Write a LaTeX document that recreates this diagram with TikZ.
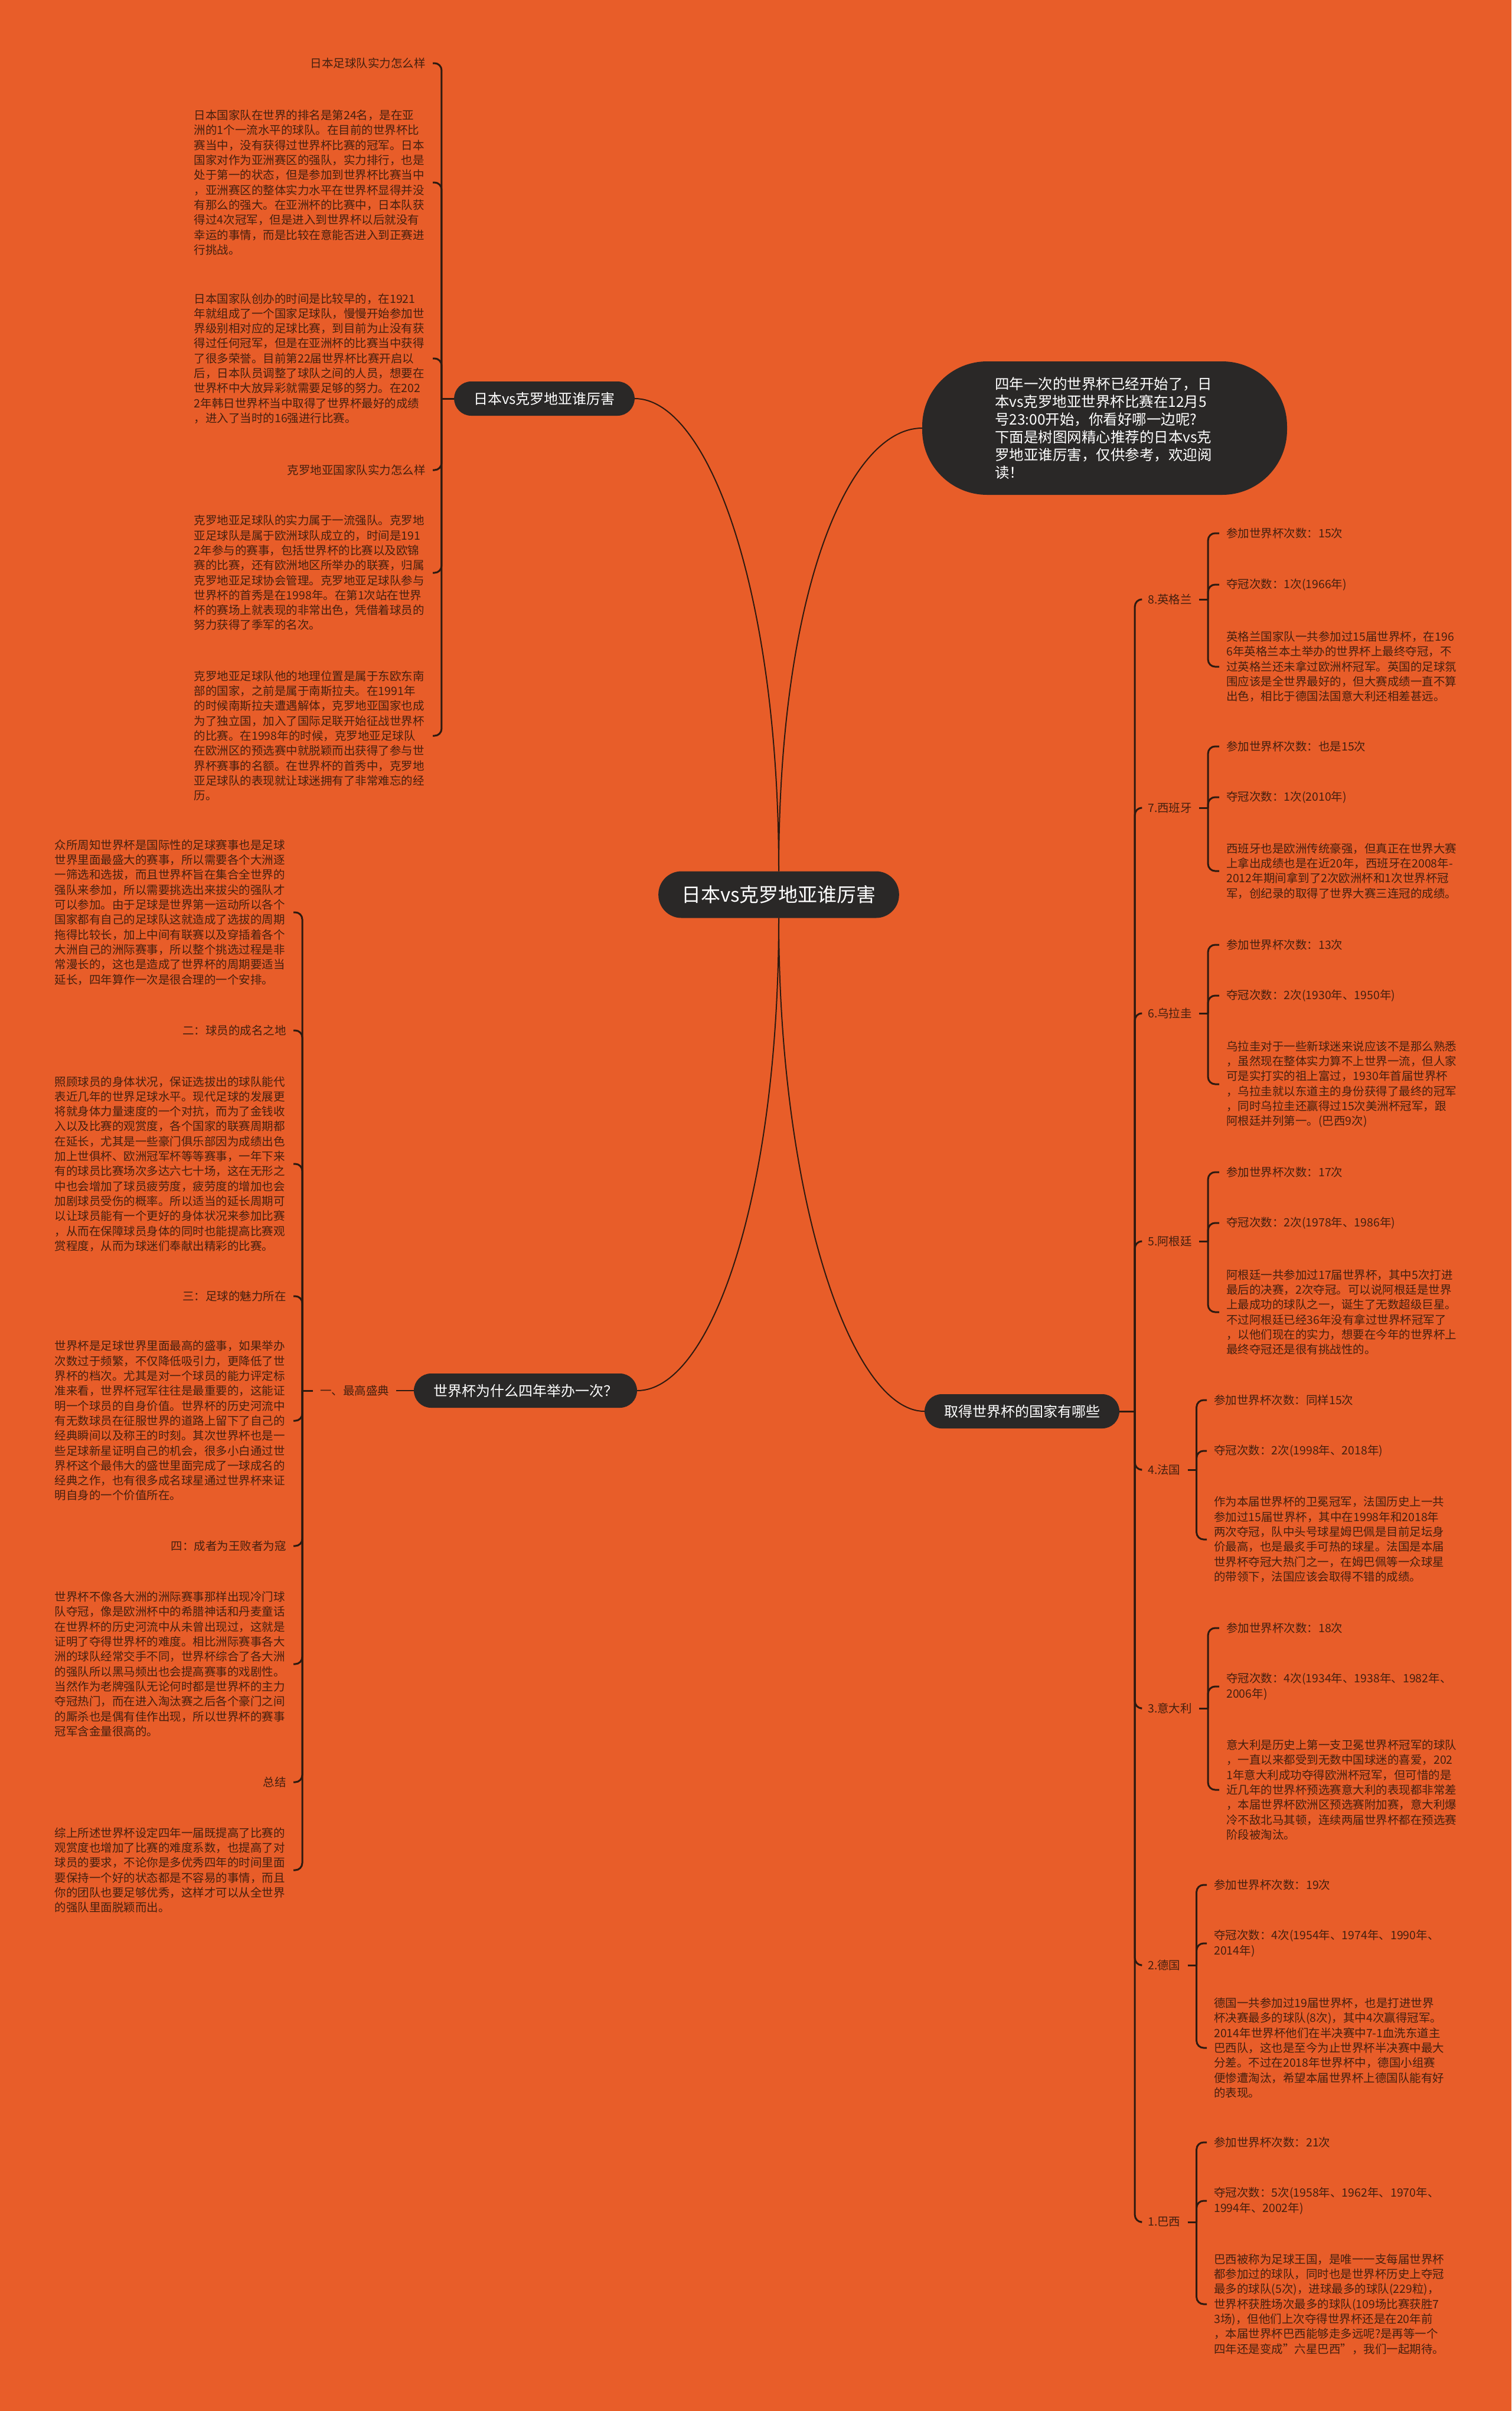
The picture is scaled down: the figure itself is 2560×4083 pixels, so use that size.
\documentclass[tikz,border=0pt]{standalone}
\usepackage{fontspec}
\setmainfont{Noto Sans CJK SC}
\usetikzlibrary{positioning}
\definecolor{MapBg}{HTML}{E85D29}
\definecolor{MapDark}{HTML}{2A2827}
\definecolor{MapInk}{HTML}{45200F}
\definecolor{MapLine}{HTML}{2E1A10}

\begin{document}
\begin{tikzpicture}[x=1pt,y=-1pt]
    \tikzset{
      hub/.style={fill=MapDark,text=white,rounded corners=39pt,inner xsep=39pt,minimum height=79pt,font=\fontsize{33}{40}\selectfont},
      br/.style={fill=MapDark,text=white,rounded corners=29pt,inner xsep=33pt,minimum height=58pt,font=\fontsize{24}{30}\selectfont},
      leaf/.style={text=MapInk,align=left,inner xsep=12pt,inner ysep=0pt,font=\fontsize{19.5}{25.3}\selectfont},
      para/.style={leaf,text width=392pt},
      ln/.style={draw=MapLine,line width=3pt,rounded corners=12pt},
      cv/.style={draw=MapLine,line width=2pt}
    }
    \fill[MapBg] (0,0) rectangle (2560,4083);
    \useasboundingbox (0,0) rectangle (2560,4083);

    % centre and the four branches
    \node[hub] (hub) at (1319,1515) {日本vs克罗地亚谁厉害};
    \node[br] (jp) at (922,675) {日本vs克罗地亚谁厉害};
    \node[br] (why) at (890,2355) {世界杯为什么四年举办一次？};
    \node[br] (win) at (1731,2390) {取得世界杯的国家有哪些};
    \node[fill=MapDark,text=white,rounded corners=110pt,minimum width=618pt,minimum height=226pt,text width=372pt,align=left,font=\fontsize{24.5}{30}\selectfont] (intro) at (1871,725) {四年一次的世界杯已经开始了，日\\本vs克罗地亚世界杯比赛在12月5\\号23:00开始，你看好哪一边呢?\\下面是树图网精心推荐的日本vs克\\罗地亚谁厉害，仅供参考，欢迎阅\\读！};

    \draw[cv] (hub.north) .. controls +(0,-476) and +(124,0) .. (jp.east);
    \draw[cv] (hub.north) .. controls +(0,-476) and +(-124,0) .. (intro.west);
    \draw[cv] (hub.south) .. controls +(0,475) and +(124,0) .. (why.east);
    \draw[cv] (hub.south) .. controls +(0,475) and +(-124,0) .. (win.west);

    % Japan vs Croatia
    \node[leaf,anchor=east] (jp1) at (733,107) {日本足球队实力怎么样};
    \node[para,anchor=east] (jp2) at (733,309) {日本国家队在世界的排名是第24名，是在亚\\洲的1个一流水平的球队。在目前的世界杯比\\赛当中，没有获得过世界杯比赛的冠军。日本\\国家对作为亚洲赛区的强队，实力排行，也是\\处于第一的状态，但是参加到世界杯比赛当中\\，亚洲赛区的整体实力水平在世界杯显得并没\\有那么的强大。在亚洲杯的比赛中，日本队获\\得过4次冠军，但是进入到世界杯以后就没有\\幸运的事情，而是比较在意能否进入到正赛进\\行挑战。};
    \node[para,anchor=east] (jp3) at (733,607) {日本国家队创办的时间是比较早的，在1921\\年就组成了一个国家足球队，慢慢开始参加世\\界级别相对应的足球比赛，到目前为止没有获\\得过任何冠军，但是在亚洲杯的比赛当中获得\\了很多荣誉。目前第22届世界杯比赛开启以\\后，日本队员调整了球队之间的人员，想要在\\世界杯中大放异彩就需要足够的努力。在202\\2年韩日世界杯当中取得了世界杯最好的成绩\\，进入了当时的16强进行比赛。};
    \node[leaf,anchor=east] (jp4) at (733,796) {克罗地亚国家队实力怎么样};
    \node[para,anchor=east] (jp5) at (733,970) {克罗地亚足球队的实力属于一流强队。克罗地\\亚足球队是属于欧洲球队成立的，时间是191\\2年参与的赛事，包括世界杯的比赛以及欧锦\\赛的比赛，还有欧洲地区所举办的联赛，归属\\克罗地亚足球协会管理。克罗地亚足球队参与\\世界杯的首秀是在1998年。在第1次站在世界\\杯的赛场上就表现的非常出色，凭借着球员的\\努力获得了季军的名次。};
    \node[para,anchor=east] (jp6) at (733,1246) {克罗地亚足球队他的地理位置是属于东欧东南\\部的国家，之前是属于南斯拉夫。在1991年\\的时候南斯拉夫遭遇解体，克罗地亚国家也成\\为了独立国，加入了国际足联开始征战世界杯\\的比赛。在1998年的时候，克罗地亚足球队\\在欧洲区的预选赛中就脱颖而出获得了参与世\\界杯赛事的名额。在世界杯的首秀中，克罗地\\亚足球队的表现就让球迷拥有了非常难忘的经\\历。};
    \draw[ln] (jp.west) -- ++(-21,0) coordinate (js);
    \foreach \k in {1,...,6} \draw[ln] (js) |- (jp\k.east);

    % why every four years
    \node[leaf,anchor=west] (top) at (530,2355) {一、最高盛典};
    \draw[cv] (why.west) -- (top.east);
    \node[para,anchor=east] (why1) at (497,1545) {众所周知世界杯是国际性的足球赛事也是足球\\世界里面最盛大的赛事，所以需要各个大洲逐\\一筛选和选拔，而且世界杯旨在集合全世界的\\强队来参加，所以需要挑选出来拔尖的强队才\\可以参加。由于足球是世界第一运动所以各个\\国家都有自己的足球队这就造成了选拔的周期\\拖得比较长，加上中间有联赛以及穿插着各个\\大洲自己的洲际赛事，所以整个挑选过程是非\\常漫长的，这也是造成了世界杯的周期要适当\\延长，四年算作一次是很合理的一个安排。};
    \node[leaf,anchor=east] (why2) at (497,1745) {二：球员的成名之地};
    \node[para,anchor=east] (why3) at (497,1971) {照顾球员的身体状况，保证选拔出的球队能代\\表近几年的世界足球水平。现代足球的发展更\\将就身体力量速度的一个对抗，而为了金钱收\\入以及比赛的观赏度，各个国家的联赛周期都\\在延长，尤其是一些豪门俱乐部因为成绩出色\\加上世俱杯、欧洲冠军杯等等赛事，一年下来\\有的球员比赛场次多达六七十场，这在无形之\\中也会增加了球员疲劳度，疲劳度的增加也会\\加剧球员受伤的概率。所以适当的延长周期可\\以让球员能有一个更好的身体状况来参加比赛\\，从而在保障球员身体的同时也能提高比赛观\\赏程度，从而为球迷们奉献出精彩的比赛。};
    \node[leaf,anchor=east] (why4) at (497,2195) {三：足球的魅力所在};
    \node[para,anchor=east] (why5) at (497,2406) {世界杯是足球世界里面最高的盛事，如果举办\\次数过于频繁，不仅降低吸引力，更降低了世\\界杯的档次。尤其是对一个球员的能力评定标\\准来看，世界杯冠军往往是最重要的，这能证\\明一个球员的自身价值。世界杯的历史河流中\\有无数球员在征服世界的道路上留下了自己的\\经典瞬间以及称王的时刻。其次世界杯也是一\\些足球新星证明自己的机会，很多小白通过世\\界杯这个最伟大的盛世里面完成了一球成名的\\经典之作，也有很多成名球星通过世界杯来证\\明自身的一个价值所在。};
    \node[leaf,anchor=east] (why6) at (497,2618) {四：成者为王败者为寇};
    \node[para,anchor=east] (why7) at (497,2818) {世界杯不像各大洲的洲际赛事那样出现冷门球\\队夺冠，像是欧洲杯中的希腊神话和丹麦童话\\在世界杯的历史河流中从未曾出现过，这就是\\证明了夺得世界杯的难度。相比洲际赛事各大\\洲的球队经常交手不同，世界杯综合了各大洲\\的强队所以黑马频出也会提高赛事的戏剧性。\\当然作为老牌强队无论何时都是世界杯的主力\\夺冠热门，而在进入淘汰赛之后各个豪门之间\\的厮杀也是偶有佳作出现，所以世界杯的赛事\\冠军含金量很高的。};
    \node[leaf,anchor=east] (why8) at (497,3018) {总结};
    \node[para,anchor=east] (why9) at (497,3167) {综上所述世界杯设定四年一届既提高了比赛的\\观赏度也增加了比赛的难度系数，也提高了对\\球员的要求，不论你是多优秀四年的时间里面\\要保持一个好的状态都是不容易的事情，而且\\你的团队也要足够优秀，这样才可以从全世界\\的强队里面脱颖而出。};
    \draw[ln] (top.west) -- ++(-18,0) coordinate (ws);
    \foreach \k in {1,...,9} \draw[ln] (ws) |- (why\k.east);

    % winners
    \node[leaf,anchor=west] (c8) at (1932,1015) {8.英格兰};
    \node[leaf,anchor=west] (c8a) at (2065,903) {参加世界杯次数：15次};
    \node[leaf,anchor=west] (c8b) at (2065,990) {夺冠次数：1次(1966年)};
    \node[para,anchor=west] (c8c) at (2065,1129) {英格兰国家队一共参加过15届世界杯，在196\\6年英格兰本土举办的世界杯上最终夺冠，不\\过英格兰还未拿过欧洲杯冠军。英国的足球氛\\围应该是全世界最好的，但大赛成绩一直不算\\出色，相比于德国法国意大利还相差甚远。};

    \node[leaf,anchor=west] (c7) at (1932,1368) {7.西班牙};
    \node[leaf,anchor=west] (c7a) at (2065,1264) {参加世界杯次数：也是15次};
    \node[leaf,anchor=west] (c7b) at (2065,1350) {夺冠次数：1次(2010年)};
    \node[para,anchor=west] (c7c) at (2065,1475) {西班牙也是欧洲传统豪强，但真正在世界大赛\\上拿出成绩也是在近20年，西班牙在2008年-\\2012年期间拿到了2次欧洲杯和1次世界杯冠\\军，创纪录的取得了世界大赛三连冠的成绩。};

    \node[leaf,anchor=west] (c6) at (1932,1716) {6.乌拉圭};
    \node[leaf,anchor=west] (c6a) at (2065,1600) {参加世界杯次数：13次};
    \node[leaf,anchor=west] (c6b) at (2065,1686) {夺冠次数：2次(1930年、1950年)};
    \node[para,anchor=west] (c6c) at (2065,1836) {乌拉圭对于一些新球迷来说应该不是那么熟悉\\，虽然现在整体实力算不上世界一流，但人家\\可是实打实的祖上富过，1930年首届世界杯\\，乌拉圭就以东道主的身份获得了最终的冠军\\，同时乌拉圭还赢得过15次美洲杯冠军，跟\\阿根廷并列第一。(巴西9次)};

    \node[leaf,anchor=west] (c5) at (1932,2102) {5.阿根廷};
    \node[leaf,anchor=west] (c5a) at (2065,1985) {参加世界杯次数：17次};
    \node[leaf,anchor=west] (c5b) at (2065,2071) {夺冠次数：2次(1978年、1986年)};
    \node[para,anchor=west] (c5c) at (2065,2222) {阿根廷一共参加过17届世界杯，其中5次打进\\最后的决赛，2次夺冠。可以说阿根廷是世界\\上最成功的球队之一，诞生了无数超级巨星。\\不过阿根廷已经36年没有拿过世界杯冠军了\\，以他们现在的实力，想要在今年的世界杯上\\最终夺冠还是很有挑战性的。};

    \node[leaf,anchor=west] (c4) at (1932,2489) {4.法国};
    \node[leaf,anchor=west] (c4a) at (2044,2371) {参加世界杯次数：同样15次};
    \node[leaf,anchor=west] (c4b) at (2044,2457) {夺冠次数：2次(1998年、2018年)};
    \node[para,anchor=west] (c4c) at (2044,2607) {作为本届世界杯的卫冕冠军，法国历史上一共\\参加过15届世界杯，其中在1998年和2018年\\两次夺冠，队中头号球星姆巴佩是目前足坛身\\价最高，也是最炙手可热的球星。法国是本届\\世界杯夺冠大热门之一，在姆巴佩等一众球星\\的带领下，法国应该会取得不错的成绩。};

    \node[leaf,anchor=west] (c3) at (1932,2893) {3.意大利};
    \node[leaf,anchor=west] (c3a) at (2065,2757) {参加世界杯次数：18次};
    \node[leaf,anchor=west] (c3b) at (2065,2856) {夺冠次数：4次(1934年、1938年、1982年、\\2006年)};
    \node[para,anchor=west] (c3c) at (2065,3031) {意大利是历史上第一支卫冕世界杯冠军的球队\\，一直以来都受到无数中国球迷的喜爱，202\\1年意大利成功夺得欧洲杯冠军，但可惜的是\\近几年的世界杯预选赛意大利的表现都非常差\\，本届世界杯欧洲区预选赛附加赛，意大利爆\\冷不敌北马其顿，连续两届世界杯都在预选赛\\阶段被淘汰。};

    \node[leaf,anchor=west] (c2) at (1932,3328) {2.德国};
    \node[leaf,anchor=west] (c2a) at (2044,3192) {参加世界杯次数：19次};
    \node[leaf,anchor=west] (c2b) at (2044,3291) {夺冠次数：4次(1954年、1974年、1990年、\\2014年)};
    \node[para,anchor=west] (c2c) at (2044,3468) {德国一共参加过19届世界杯，也是打进世界\\杯决赛最多的球队(8次)，其中4次赢得冠军。\\2014年世界杯他们在半决赛中7-1血洗东道主\\巴西队，这也是至今为止世界杯半决赛中最大\\分差。不过在2018年世界杯中，德国小组赛\\便惨遭淘汰，希望本届世界杯上德国队能有好\\的表现。};

    \node[leaf,anchor=west] (c1) at (1932,3763) {1.巴西};
    \node[leaf,anchor=west] (c1a) at (2044,3628) {参加世界杯次数：21次};
    \node[leaf,anchor=west] (c1b) at (2044,3727) {夺冠次数：5次(1958年、1962年、1970年、\\1994年、2002年)};
    \node[para,anchor=west] (c1c) at (2044,3902) {巴西被称为足球王国，是唯一一支每届世界杯\\都参加过的球队，同时也是世界杯历史上夺冠\\最多的球队(5次)，进球最多的球队(229粒)，\\世界杯获胜场次最多的球队(109场比赛获胜7\\3场)，但他们上次夺得世界杯还是在20年前\\，本届世界杯巴西能够走多远呢?是再等一个\\四年还是变成\char34 六星巴西\char34 ，我们一起期待。};

    \draw[ln] (win.east) -- ++(26,0) coordinate (rs);
    \foreach \n in {1,...,8} {
      \draw[ln] (rs) |- (c\n.west);
      \draw[ln] (c\n.east) -- ++(15,0) coordinate (s\n);
      \foreach \k in {a,b,c} \draw[ln] (s\n) |- (c\n\k.west);
    }
  \end{tikzpicture}
\end{document}
